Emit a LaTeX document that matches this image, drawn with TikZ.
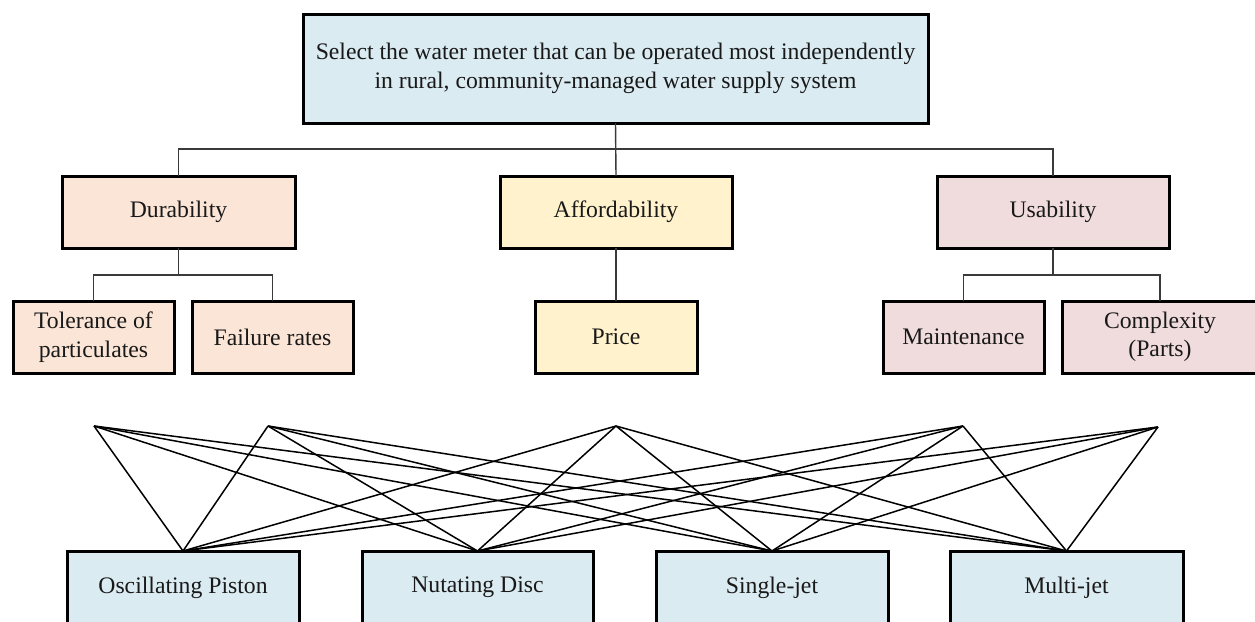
\documentclass[tikz,border=0pt]{standalone}
\usepackage{fontspec}
\setmainfont{Liberation Serif}
\definecolor{topblue}{HTML}{DAEBF2}
\definecolor{durpeach}{HTML}{FBE5D6}
\definecolor{affyellow}{HTML}{FFF2CC}
\definecolor{usapink}{HTML}{F0DCDC}
\definecolor{linkgray}{HTML}{3A3A3A}
\tikzset{
  box/.style={draw=black, line width=3pt, inner sep=0pt, outer sep=0pt, align=center,
    font=\fontsize{23.7}{28.5}\selectfont, text=black!90},
  treelink/.style={draw=linkgray, line width=1.4pt},
  crosslink/.style={draw=black, line width=1.5pt},
}
\begin{document}
\begin{tikzpicture}[x=1pt,y=-1pt]
\clip (0,0) rectangle (1255,621);
\fill[white] (0,0) rectangle (1255,621);
% top goal
\node[box, fill=topblue, minimum width=625pt, minimum height=109pt] (goal) at (615.5,68.5)
  {Select the water meter that can be operated most independently\\in rural, community-managed water supply system};
% criteria
\node[box, fill=durpeach, minimum width=233pt, minimum height=72pt] (dur) at (178.5,212) {Durability};
\node[box, fill=affyellow, minimum width=232pt, minimum height=72pt] (aff) at (616,212) {Affordability};
\node[box, fill=usapink, minimum width=232pt, minimum height=72pt] (usa) at (1053,212) {Usability};
% sub-criteria
\node[box, fill=durpeach, minimum width=161pt, minimum height=72pt] (tol) at (93.5,337) {Tolerance of\\particulates};
\node[box, fill=durpeach, minimum width=161pt, minimum height=72pt] (fail) at (272.5,337) {Failure rates};
\node[box, fill=affyellow, minimum width=162pt, minimum height=72pt] (price) at (616,337) {Price};
\node[box, fill=usapink, minimum width=161pt, minimum height=72pt] (maint) at (963.5,337) {Maintenance};
\node[box, fill=usapink, minimum width=196pt, minimum height=72pt] (comp) at (1160,337) {Complexity\\(Parts)};
% alternatives
\node[box, fill=topblue, minimum width=232pt, minimum height=73pt] (osc) at (183,587.5) {Oscillating Piston};
\node[box, fill=topblue, minimum width=231pt, minimum height=73pt] (nut) at (477.5,587.5) {Nutating Disc};
\node[box, fill=topblue, minimum width=232pt, minimum height=73pt] (sj) at (772,587.5) {Single-jet};
\node[box, fill=topblue, minimum width=233pt, minimum height=73pt] (mj) at (1066.5,587.5) {Multi-jet};
% tree links
\draw[treelink] (goal.south) -- ++(0,26) -| (dur.north);
\draw[treelink] (goal.south) -- (aff.north);
\draw[treelink] (goal.south) -- ++(0,26) -| (usa.north);
\draw[treelink] (dur.south) -- ++(0,27) -| (tol.north);
\draw[treelink] (dur.south) -- ++(0,27) -| (fail.north);
\draw[treelink] (aff.south) -- (price.north);
\draw[treelink] (usa.south) -- ++(0,27) -| (maint.north);
\draw[treelink] (usa.south) -- ++(0,27) -| (comp.north);
% apex points of the cross links
\coordinate (p1) at (94,426);
\coordinate (p2) at (268,426);
\coordinate (p3) at (616,426);
\coordinate (p4) at (963,426);
\coordinate (p5) at (1158,427);
\foreach \p in {p1,p2,p3,p4,p5}{
  \foreach \a in {osc,nut,sj,mj}{
    \draw[crosslink, line join=miter] (\p) -- (\a.north);
  }
}
\end{tikzpicture}
\end{document}
